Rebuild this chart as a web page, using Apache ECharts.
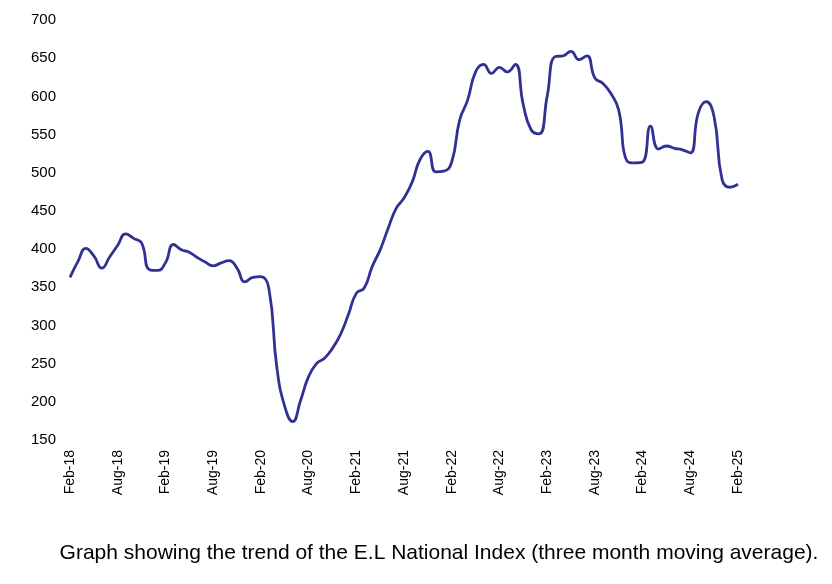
<!DOCTYPE html>
<html>
<head>
<meta charset="utf-8">
<script src="https://cdn.jsdelivr.net/npm/echarts@6/dist/echarts.min.js"></script>
<style>
html,body{margin:0;padding:0;background:#fff;}
#chart{width:832px;height:584px;}
</style>
</head>
<body>
<div id="chart"></div>
<script>
const monthNames = ['Jan','Feb','Mar','Apr','May','Jun','Jul','Aug','Sep','Oct','Nov','Dec'];
const categories = [];
for (let y = 18; y <= 25; y++) {
  for (let m = 0; m < 12; m++) {
    if (y === 18 && m < 1) continue;
    if (y === 25 && m > 1) continue;
    categories.push(monthNames[m] + '-' + y);
  }
}
const indexValues = [
  363, 384, 401, 391, 375, 390, 405, 420, 414, 408, 373, 372,
  382, 406, 399, 396, 389, 383, 378, 382, 385, 375, 357, 363,
  364, 349, 246, 194, 174, 202, 233, 250, 257, 270, 288, 314,
  342, 349, 377, 399, 427, 453, 467, 487, 517, 528, 501, 502,
  514, 569, 595, 632, 642, 630, 638, 632, 642, 589, 556, 551,
  600, 652, 653, 659, 648, 653, 624, 617, 604, 582, 516, 513,
  514, 561, 531, 535, 532, 530, 526, 578, 593, 573, 491, 481,
  485
];
const yTicks = {min: 150, max: 700, interval: 50};
const caption = 'Graph showing the trend of the E.L National Index (three month moving average).';

const chart = echarts.init(document.getElementById('chart'), null, {renderer: 'canvas'});
chart.setOption({
  animation: false,
  backgroundColor: '#ffffff',
  title: {
    text: caption,
    left: 434,
    textAlign: 'center',
    top: 538,
    textStyle: {fontFamily: 'Liberation Sans, Arial', fontSize: 21, fontWeight: 'normal', color: '#000'}
  },
  grid: {left: 70, right: 94, top: 20, bottom: 144, containLabel: false},
  xAxis: {
    type: 'category',
    data: categories,
    boundaryGap: false,
    axisLine: {show: false},
    axisTick: {show: false},
    splitLine: {show: false},
    axisLabel: {
      interval: 5,
      rotate: 90,
      margin: 10,
      fontFamily: 'Liberation Sans, Arial',
      fontSize: 14,
      color: '#000'
    }
  },
  yAxis: {
    type: 'value',
    min: yTicks.min,
    max: yTicks.max,
    interval: yTicks.interval,
    axisLine: {show: false},
    axisTick: {show: false},
    splitLine: {show: false},
    axisLabel: {
      margin: 14,
      fontFamily: 'Liberation Sans, Arial',
      fontSize: 15,
      color: '#000'
    }
  },
  series: [{
    type: 'line',
    data: indexValues,
    smooth: 0.5,
    showSymbol: false,
    lineStyle: {color: '#313193', width: 2.8}
  }]
});
</script>
</body>
</html>
